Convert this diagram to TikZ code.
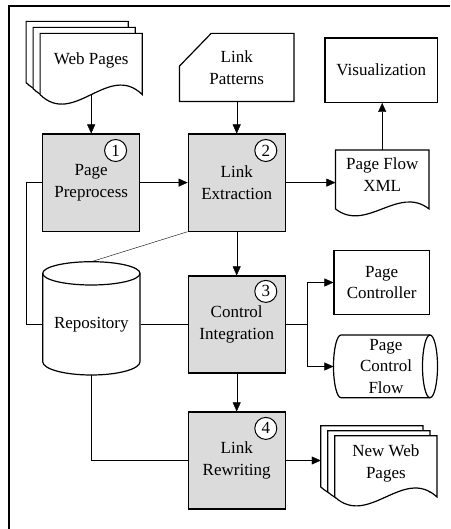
\documentclass[tikz,border=0pt]{standalone}
\usepackage{fontspec}
\setmainfont{Liberation Serif}
\usetikzlibrary{arrows.meta}

\definecolor{stepgray}{gray}{0.86}
\pgfdeclarelayer{shapes}
\pgfsetlayers{shapes,main}

% document outline with a wavy bottom edge: node, third of width, wave pull
\newcommand{\docline}[3]{%
  \draw[outline] (#1.south west) -- (#1.north west) -- (#1.north east) -- (#1.south east)
    .. controls +(-#2,-#3) and +(#2,#3) .. (#1.south west) -- cycle;}

\begin{document}
\begin{tikzpicture}[x=1pt,y=-1pt,line width=1.2pt,
    font=\fontsize{17}{21.5}\selectfont,
    stepbox/.style={draw,fill=stepgray,minimum width=97pt,minimum height=97pt,align=center},
    outbox/.style={draw,align=center},
    bare/.style={align=center,inner sep=0pt},
    doc/.style={bare,minimum width=101pt,minimum height=60pt},
    outline/.style={draw,fill=white,line width=1.2pt},
    num/.style={draw,circle,fill=white,line width=1pt,minimum size=22pt,inner sep=0pt},
    arr/.style={-{Triangle[length=9pt,width=8pt]}}]

  \useasboundingbox (0,0) rectangle (450,529);
  \draw (9,529) -- (9,6) -- (450,6);

  % inputs
  \node[doc,text depth=10pt] (web) at (91.2,64) {Web Pages};
  \node[doc] (web mid) at (84.2,58) {};
  \node[doc] (web back) at (77.2,52) {};
  \node[bare,minimum width=113.3pt,minimum height=67pt] (pat) at (236.7,67.5) {Link\\Patterns};

  % the four steps
  \node[stepbox] (prep) at (91.2,182.6) {Page\\Preprocess};
  \node[stepbox] (extr) at (236.7,182.6) {Link\\Extraction};
  \node[stepbox] (ctrl) at (236.7,324.5) {Control\\Integration};
  \node[stepbox] (rewr) at (236.7,460.5) {Link\\Rewriting};
  \node[num] (n1) at ([shift={(-24.7,17)}]prep.north east) {1};
  \node[num] (n2) at ([shift={(-20,17)}]extr.north east) {2};
  \node[num] (n3) at ([shift={(-20,16)}]ctrl.north east) {3};
  \node[num] (n4) at ([shift={(-20,17)}]rewr.north east) {4};

  % outputs
  \node[outbox,minimum width=112.7pt,minimum height=64.3pt] (vis) at (381.3,70.2) {Visualization};
  \node[bare,text depth=10pt,minimum width=92.3pt,minimum height=57.6pt] (xml) at (382.2,179.5) {Page Flow\\XML};
  \node[outbox,minimum width=95.3pt,minimum height=63.6pt] (pctl) at (381.7,282.5) {Page\\Controller};
  \node[bare,minimum width=104pt,minimum height=62.7pt] (pcf) at (386,366.5) {Page\\Control\\Flow};
  \node[doc,text depth=10pt] (nweb) at (385.85,466.35) {New Web\\Pages};
  \node[doc] (nweb mid) at (378.85,461.35) {};
  \node[doc] (nweb back) at (371.85,456.35) {};

  % repository
  \node[bare,minimum width=97.3pt] (repo) at (91.35,324.5) {Repository};
  \coordinate (repo top) at (91.35,261.7);
  \coordinate (repo bottom) at (91.35,375);

  \begin{pgfonlayer}{shapes}
    \docline{web back}{33.7}{33}
    \docline{web mid}{33.7}{33}
    \docline{web}{33.7}{33}
    \docline{xml}{30.8}{24}
    \docline{nweb back}{33.7}{31}
    \docline{nweb mid}{33.7}{31}
    \docline{nweb}{33.7}{31}
    \draw[outline] (pat.south west) -- ([shift={(0,32.7)}]pat.north west)
      -- ([shift={(31.7,0)}]pat.north west) -- (pat.north east) -- (pat.south east) -- cycle;
    % cylinder standing up
    \draw[outline] (42.7,273.35) -- (42.7,361.7)
      arc[start angle=180,end angle=360,x radius=48.65pt,y radius=13.3pt] -- (140,273.35)
      arc[start angle=0,end angle=180,x radius=48.65pt,y radius=11.65pt] -- cycle;
    \draw[line width=1.2pt] (42.7,273.35) arc[start angle=180,end angle=360,x radius=48.65pt,y radius=11.65pt];
    % cylinder lying down
    \draw[outline] (430,335) -- (341,335)
      arc[start angle=90,end angle=270,x radius=7.5pt,y radius=31.35pt] -- (430,397.7);
    \draw[outline] (430,366.35) ellipse[x radius=7.5pt,y radius=31.35pt];
  \end{pgfonlayer}

  % flow
  \draw[arr] (web.south) -- (prep.north);
  \draw[arr] (pat) -- (extr);
  \draw[arr] (prep) -- (extr);
  \draw[arr] (extr.east) -- (extr.east -| xml.west);
  \draw[arr] (xml.north) -- (xml.north |- vis.south);
  \draw[arr] (extr) -- (ctrl);
  \draw[arr] (ctrl) -- (rewr);
  \draw (ctrl.east) -- ++(21.7,0) coordinate (fork);
  \draw[arr] (fork) |- (pctl.west);
  \draw[arr] (fork) |- (pcf.west);
  \draw[arr] (rewr.east) -- (rewr.east -| nweb back.west);

  % repository links
  \draw (extr.south west) -- (repo top);
  \draw (prep.west) -- ++(-16,0) |- (repo.west);
  \draw (repo.east) -- (ctrl.west);
  \draw (repo bottom) |- (rewr.west);
\end{tikzpicture}
\end{document}
